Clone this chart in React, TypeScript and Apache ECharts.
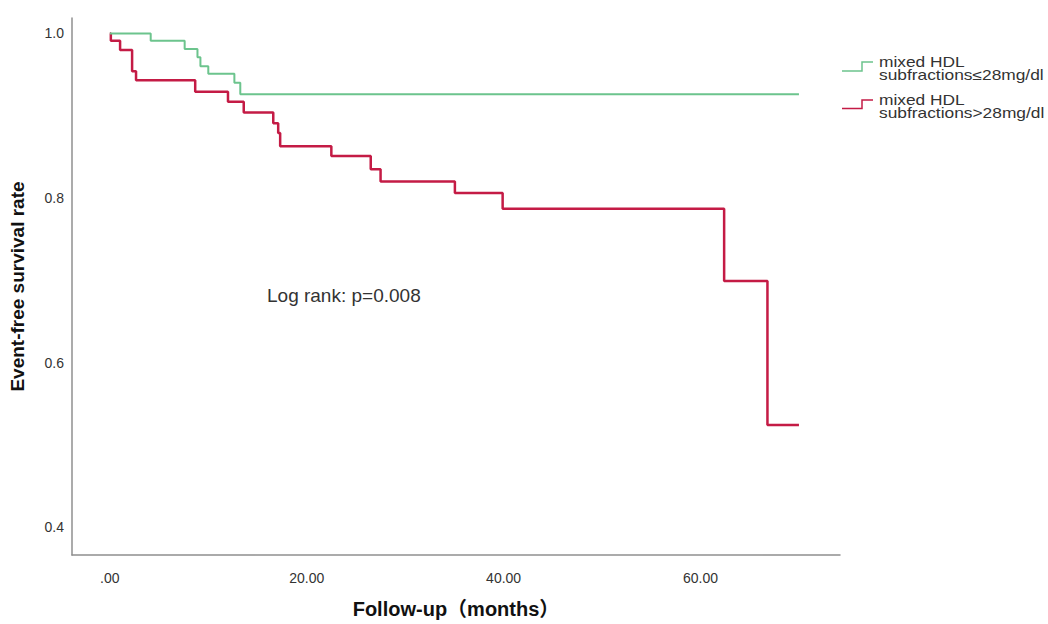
import React, { useEffect, useRef } from "react";
import * as echarts from "echarts";

const lowTimes = [0, 4.15, 7.6, 8.9, 9.2, 10.0, 12.65, 13.25, 70.0];
const lowSurvival = [1.0, 0.991, 0.981, 0.971, 0.96, 0.951, 0.94, 0.926, 0.926];

const highTimes = [0, 0.1, 1.04, 2.26, 2.66, 8.67, 12.0, 13.6, 16.6, 17.1, 17.3, 22.5, 26.5, 27.5, 35.05, 39.9, 62.4, 66.8, 70.0];
const highSurvival = [1.0, 0.991, 0.98, 0.954, 0.943, 0.929, 0.917, 0.904, 0.891, 0.879, 0.863, 0.851, 0.835, 0.82, 0.806, 0.787, 0.699, 0.524, 0.524];

const xTicks = [0, 20, 40, 60];
const yTicks = [0.4, 0.6, 0.8, 1.0];

const seriesNames = ["mixed HDL\nsubfractions≤28mg/dl", "mixed HDL\nsubfractions>28mg/dl"];
const annotation = "Log rank: p=0.008";

const GREEN = "#6cc48d";
const RED = "#c41b45";
const FONT = "Arial, 'Liberation Sans', 'Noto Sans CJK SC', sans-serif";

export default function App() {
  const ref = useRef<HTMLDivElement>(null);
  useEffect(() => {
    if (!ref.current) return;
    const chart = echarts.init(ref.current, null, { renderer: "svg" });
    const zip = (t: number[], s: number[]) => t.map((v, i) => [v, s[i]]);
    const legendLines = (name: string, y: number) => name.split("\n").map((line, i) => ({
      type: "text",
      x: 879,
      y: y + i * 12.7,
      scaleX: 1.24,
      style: { text: line, fontSize: 14, fontFamily: FONT, fill: "#333", verticalAlign: "middle", align: "left" },
    }));
    chart.setOption({
      animation: false,
      backgroundColor: "#fff",
      textStyle: { fontFamily: FONT },
      grid: { left: 69, right: 208, top: 18, bottom: 69, containLabel: false },
      xAxis: {
        type: "value",
        min: -3.845,
        max: 74.17,
        name: "Follow-up（months）",
        nameLocation: "middle",
        nameGap: 44,
        nameTextStyle: { fontSize: 20, fontWeight: "bold", color: "#111", fontFamily: FONT },
        axisLine: { show: true, onZero: false, lineStyle: { color: "#8f8f8f", width: 1.5 } },
        axisTick: { show: false },
        splitLine: { show: false },
        axisLabel: {
          customValues: xTicks,
          margin: 16,
          fontSize: 14,
          color: "#333",
          formatter: (v: number) => (v === 0 ? ".00" : v.toFixed(2)),
        },
      },
      yAxis: {
        type: "value",
        min: 0.366,
        max: 1.0188,
        name: "Event-free survival rate",
        nameLocation: "middle",
        nameGap: 45,
        nameTextStyle: { fontSize: 19, fontWeight: "bold", color: "#111", fontFamily: FONT },
        axisLine: { show: true, onZero: false, lineStyle: { color: "#8f8f8f", width: 1.5 } },
        axisTick: { show: false },
        splitLine: { show: false },
        axisLabel: {
          customValues: yTicks,
          margin: 8,
          fontSize: 14,
          color: "#333",
          padding: [4, 0, 0, 0],
          formatter: (v: number) => v.toFixed(1),
        },
      },
      series: [
        {
          name: seriesNames[0],
          type: "line",
          step: "end",
          showSymbol: false,
          data: zip(lowTimes, lowSurvival),
          lineStyle: { color: GREEN, width: 2 },
          itemStyle: { color: GREEN },
          z: 3,
        },
        {
          name: seriesNames[1],
          type: "line",
          step: "end",
          showSymbol: false,
          data: zip(highTimes, highSurvival),
          lineStyle: { color: RED, width: 2.5 },
          itemStyle: { color: RED },
          z: 2,
        },
      ],
      graphic: [
        {
          type: "polyline",
          shape: { points: [[842, 71], [862, 71], [862, 62], [873, 62]] },
          style: { stroke: GREEN, lineWidth: 1.5, fill: "none" },
        },
        {
          type: "polyline",
          shape: { points: [[842, 108.5], [862, 108.5], [862, 100], [873, 100]] },
          style: { stroke: RED, lineWidth: 1.5, fill: "none" },
        },
        ...legendLines(seriesNames[0], 62),
        ...legendLines(seriesNames[1], 100),
        {
          type: "text",
          x: 267,
          y: 295,
          style: { text: annotation, fontSize: 19, fontFamily: FONT, fill: "#333", verticalAlign: "middle", align: "left" },
        },
      ],
    });
    return () => chart.dispose();
  }, []);
  return <div ref={ref} style={{ position: "absolute", left: 0, top: 0, width: 1048, height: 624 }} />;
}
